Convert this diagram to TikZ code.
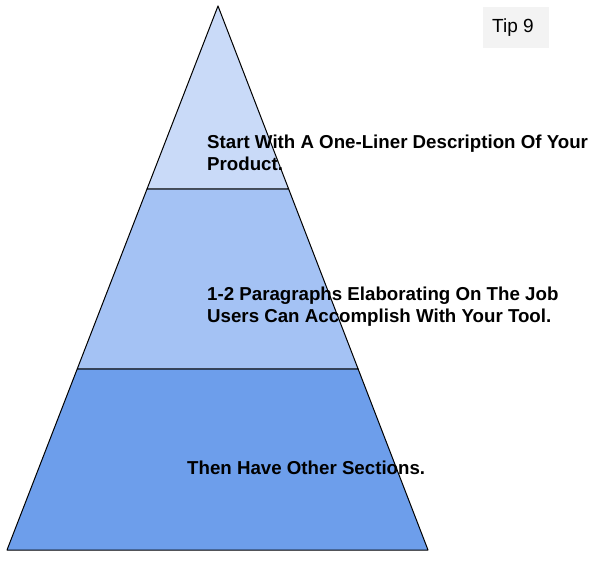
\documentclass[tikz,border=0pt]{standalone}
\usepackage{fontspec}
\setmainfont{Liberation Sans}
\usetikzlibrary{calc}
\definecolor{tiertop}{HTML}{C9DAF8}
\definecolor{tiermid}{HTML}{A4C2F4}
\definecolor{tierlow}{HTML}{6D9EEB}
\definecolor{tipgray}{HTML}{F3F3F3}

\begin{document}
\begin{tikzpicture}[x=1pt,y=1pt,
    tier/.style={draw=black, line width=1pt, line join=round},
    tiertext/.style={anchor=west, align=left, inner sep=0pt,
      font=\fontsize{18.7}{22}\selectfont\bfseries}]
    \useasboundingbox (0,0) rectangle (610,565);
    % Pyramidenecken
    \coordinate (apex) at (218,559);
    \coordinate (bl) at (7,15);
    \coordinate (br) at (428,15);
    \coordinate (l1) at ($(apex)!0.336!(bl)$);
    \coordinate (r1) at ($(apex)!0.336!(br)$);
    \coordinate (l2) at ($(apex)!0.667!(bl)$);
    \coordinate (r2) at ($(apex)!0.667!(br)$);
    % Stufen
    \filldraw[tier, fill=tierlow] (l2) -- (bl) -- (br) -- (r2) -- cycle;
    \filldraw[tier, fill=tiermid] (l1) -- (l2) -- (r2) -- (r1) -- cycle;
    \filldraw[tier, fill=tiertop] (apex) -- (l1) -- (r1) -- cycle;
    % Texte
    \node[tiertext] (oneliner) at (207,412) {Start With A One-Liner Description Of Your\\Product.};
    \node[tiertext] (paragraphs) at (207,258) {1-2 Paragraphs Elaborating On The Job\\Users Can Accomplish With Your Tool.};
    \node[tiertext] (sections) at (187,97) {Then Have Other Sections.};
    % Tipp
    \fill[tipgray] (483,517) rectangle (549,558);
    \node[anchor=west, inner sep=0pt, font=\fontsize{19}{22}\selectfont] (tip) at (492,537.5) {Tip 9};
\end{tikzpicture}
\end{document}
